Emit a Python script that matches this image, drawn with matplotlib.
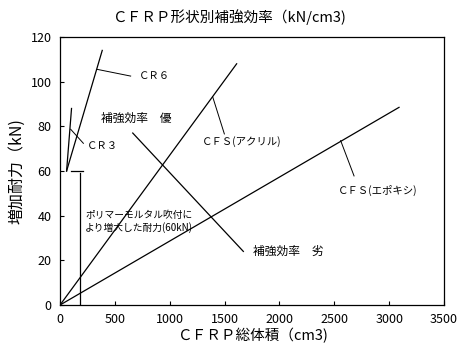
import matplotlib.pyplot as plt

plt.rcParams['font.family'] = ['Noto Sans CJK JP', 'DejaVu Sans']

# main lines (x: CFRP volume cm3, y: added strength kN)
cr6_x = [60, 385]
cr6_y = [60, 114]
cr3_x = [60, 105]
cr3_y = [60, 88]
acryl_x = [0, 1610]
acryl_y = [0, 108]
epoxy_x = [0, 3090]
epoxy_y = [0, 88.5]
mortar_x = [100, 210]
mortar_y = [60, 60]
mortar_v_x = [180, 180]
mortar_v_y = [0, 59]
eff_x = [663, 1671]
eff_y = [77, 24]

# leader lines
lead_cr6 = ([340, 644], [105.5, 102.5])
lead_cr3 = ([97, 213], [78.7, 72.4])
lead_acryl = ([1391, 1498], [93.3, 76.6])
lead_epoxy = ([2558, 2680], [73.6, 57.8])

xticks = [0, 500, 1000, 1500, 2000, 2500, 3000, 3500]
yticks = [0, 20, 40, 60, 80, 100, 120]

fig = plt.figure(figsize=(4.63, 3.49), dpi=100)
ax = fig.add_axes([0.1296, 0.126, 0.8294, 0.768])

lw = 0.9
for xs, ys in [(cr6_x, cr6_y), (cr3_x, cr3_y), (acryl_x, acryl_y),
               (epoxy_x, epoxy_y), (mortar_x, mortar_y),
               (mortar_v_x, mortar_v_y), (eff_x, eff_y)]:
    ax.plot(xs, ys, color='black', lw=lw)
for xs, ys in [lead_cr6, lead_cr3, lead_acryl, lead_epoxy]:
    ax.plot(xs, ys, color='black', lw=0.7)

fs = 7.5
ax.text(720, 102.5, 'ＣＲ６', fontsize=fs, va='center')
ax.text(243, 71, 'ＣＲ３', fontsize=fs, va='center')
ax.text(374, 83.6, '補強効率　優', fontsize=8.5, va='center')
ax.text(1292, 73.1, 'ＣＦＳ(アクリル)', fontsize=fs, va='center')
ax.text(2531, 51.5, 'ＣＦＳ(エポキシ)', fontsize=fs, va='center')
ax.text(1760, 24, '補強効率　劣', fontsize=8.5, va='center')
ax.text(228, 40.3, 'ポリマーモルタル吹付に', fontsize=7, va='center')
ax.text(228, 34.8, 'より増大した耐力(60kN)', fontsize=7, va='center')

ax.set_xlim(0, 3500)
ax.set_ylim(0, 120)
ax.set_xticks(xticks)
ax.set_yticks(yticks)
ax.tick_params(direction='in', length=3, labelsize=9, pad=6)
for s in ax.spines.values():
    s.set_linewidth(0.9)

ax.set_title('ＣＦＲＰ形状別補強効率（kN/cm3)', fontsize=10.5, pad=11, x=0.44)
ax.set_xlabel('ＣＦＲＰ総体積（cm3)', fontsize=10.5, labelpad=1)
ax.set_ylabel('増加耐力（kN)', fontsize=11.5, labelpad=4)

fig.savefig('out.png', dpi=100)
